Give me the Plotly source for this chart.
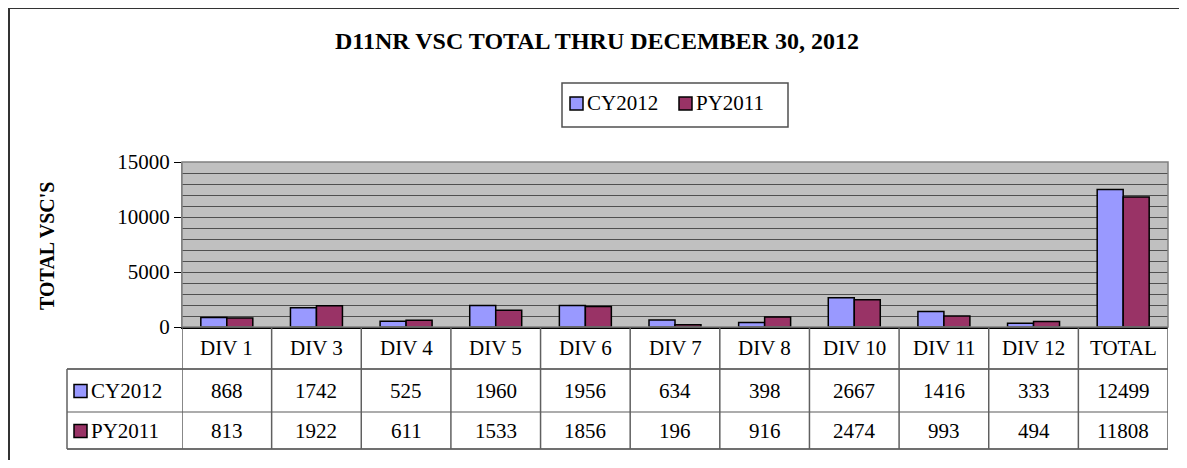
import plotly.graph_objects as go

categories = ["DIV 1", "DIV 3", "DIV 4", "DIV 5", "DIV 6", "DIV 7", "DIV 8", "DIV 10", "DIV 11", "DIV 12", "TOTAL"]
cy2012 = [868, 1742, 525, 1960, 1956, 634, 398, 2667, 1416, 333, 12499]
py2011 = [813, 1922, 611, 1533, 1856, 196, 916, 2474, 993, 494, 11808]
series_names = ["CY2012", "PY2011"]
series_colors = ["#9999FF", "#993366"]
title_text = "D11NR VSC TOTAL THRU DECEMBER 30, 2012"
y_title = "TOTAL VSC'S"

# page has an 8px body margin; size the figure so it fits the window
OFF = 8
W, H = 1187 - 2 * OFF, 468 - 2 * OFF
FONT = "Liberation Serif, Times New Roman, serif"
FS = 21

def px(x):
    return (x - OFF) / W

def py(y):
    return 1 - (y - OFF) / H

PLOT_L, PLOT_R, PLOT_T, PLOT_B = 182, 1168, 162, 327
ROW1, ROW2, ROW3 = 369, 412, 449
TABLE_L = 67

fig = go.Figure()
for name, vals, col in zip(series_names, [cy2012, py2011], series_colors):
    fig.add_trace(go.Bar(
        x=categories, y=vals, name=name,
        marker=dict(color=col, line=dict(color="black", width=1.5)),
        showlegend=False, hoverinfo="x+y+name",
    ))

shapes = []
annotations = []

# outer border (left and top visible)
shapes.append(dict(type="rect", xref="paper", yref="paper",
                   x0=px(9), x1=px(1200), y0=py(8), y1=py(480),
                   line=dict(color="#333333", width=2)))
# plot area border
shapes.append(dict(type="rect", xref="paper", yref="paper",
                   x0=px(PLOT_L), x1=px(PLOT_R), y0=py(PLOT_B), y1=py(PLOT_T),
                   line=dict(color="#808080", width=1.5), layer="above"))

# table horizontal lines
for yy, c in [(ROW1, "#404040"), (ROW2, "#909090"), (ROW3, "#404040")]:
    shapes.append(dict(type="line", xref="paper", yref="paper",
                       x0=px(TABLE_L), x1=px(PLOT_R), y0=py(yy), y1=py(yy),
                       line=dict(color=c, width=1.5)))
# table vertical lines
n = len(categories)
for i in range(n + 1):
    shapes.append(dict(type="line", xref="x", yref="paper",
                       x0=i - 0.5, x1=i - 0.5, y0=py(PLOT_B), y1=py(ROW3),
                       line=dict(color="#606060", width=1.5)))
shapes.append(dict(type="line", xref="paper", yref="paper",
                   x0=px(TABLE_L), x1=px(TABLE_L), y0=py(ROW1), y1=py(ROW3),
                   line=dict(color="#606060", width=1.5)))

txt_font = dict(family=FONT, size=FS, color="black")
# table text
for i, cat in enumerate(categories):
    annotations.append(dict(x=cat, xref="x", y=py((PLOT_B + ROW1) / 2), yref="paper", yanchor="middle",
                            text=cat, showarrow=False, font=txt_font))
    annotations.append(dict(x=cat, xref="x", y=py((ROW1 + ROW2) / 2), yref="paper", yanchor="middle",
                            text=str(cy2012[i]), showarrow=False, font=txt_font))
    annotations.append(dict(x=cat, xref="x", y=py((ROW2 + ROW3) / 2), yref="paper", yanchor="middle",
                            text=str(py2011[i]), showarrow=False, font=txt_font))

# row legends in table
for (yc, name, col) in [((ROW1 + ROW2) / 2, series_names[0], series_colors[0]),
                        ((ROW2 + ROW3) / 2, series_names[1], series_colors[1])]:
    shapes.append(dict(type="rect", xref="paper", yref="paper",
                       x0=px(74), x1=px(87), y0=py(yc + 7), y1=py(yc - 6),
                       fillcolor=col, line=dict(color="black", width=1.5)))
    annotations.append(dict(x=px(89), xref="paper", y=py(yc), yref="paper", xanchor="left", yanchor="middle",
                            text=name, showarrow=False, font=txt_font))

# legend box
shapes.append(dict(type="rect", xref="paper", yref="paper",
                   x0=px(562), x1=px(788), y0=py(127), y1=py(83),
                   line=dict(color="#505050", width=1.5)))
for x0, name, col in [(570, series_names[0], series_colors[0]), (679, series_names[1], series_colors[1])]:
    shapes.append(dict(type="rect", xref="paper", yref="paper",
                       x0=px(x0), x1=px(x0 + 13), y0=py(110), y1=py(97),
                       fillcolor=col, line=dict(color="black", width=1.5)))
    annotations.append(dict(x=px(x0 + 15), xref="paper", y=py(103), yref="paper", xanchor="left", yanchor="middle",
                            text=name, showarrow=False, font=txt_font))

# title
annotations.append(dict(x=px(597), xref="paper", y=py(41), yref="paper", yanchor="middle",
                        text="<b>" + title_text + "</b>", showarrow=False,
                        font=dict(family=FONT, size=24, color="black")))
# y axis title
annotations.append(dict(x=px(47), xref="paper", y=py(246), yref="paper", xanchor="center", yanchor="middle",
                        text="<b>" + y_title + "</b>", showarrow=False, textangle=-90,
                        font=dict(family=FONT, size=20, color="black")))

fig.update_layout(
    template="none",
    width=W, height=H,
    autosize=False,
    margin=dict(l=0, r=0, t=0, b=0, pad=0),
    paper_bgcolor="white",
    plot_bgcolor="#C0C0C0",
    barmode="group",
    bargap=0.42,
    bargroupgap=0,
    shapes=shapes,
    annotations=annotations,
    xaxis=dict(domain=[px(PLOT_L), px(PLOT_R)], range=[-0.5, n - 0.5], automargin=False,
               showticklabels=False, ticks="", showgrid=False,
               showline=True, linecolor="black", linewidth=2, zeroline=False),
    yaxis=dict(domain=[py(PLOT_B), py(PLOT_T)], range=[0, 15000], automargin=False,
               dtick=5000, tick0=0, tickformat="d", ticks="outside", ticklen=7, tickcolor="black",
               tickwidth=1,
               tickfont=dict(family=FONT, size=FS, color="black"),
               showgrid=True, gridcolor="#505050", gridwidth=1.2,
               minor=dict(dtick=1000, showgrid=True, gridcolor="#505050", gridwidth=1.2),
               showline=True, linecolor="#808080", linewidth=1, zeroline=False),
    font=dict(family=FONT),
)

fig.write_html("out.html")
